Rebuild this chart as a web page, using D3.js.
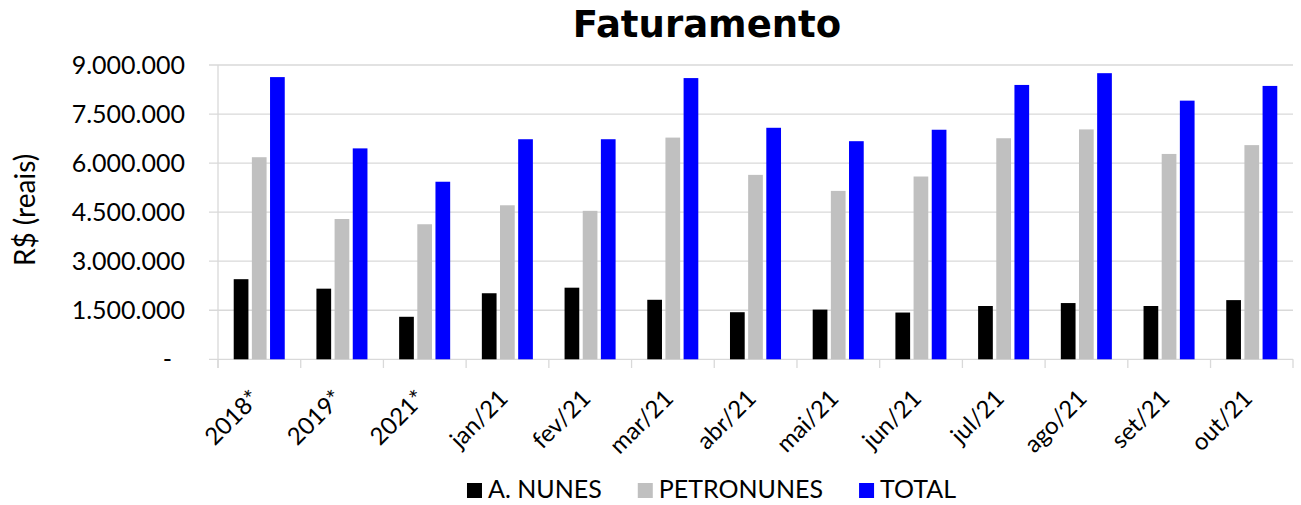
<!DOCTYPE html>
<html>
<head>
<meta charset="utf-8">
<script src="https://cdn.jsdelivr.net/npm/d3@7"></script>
<style>
  body { margin: 0; background: #fff; }
  text { font-family: Lato, "Open Sans", sans-serif; fill: #000; }
</style>
</head>
<body>
<div class="chart"></div>
<script>
var width = 1301;
var height = 505;

// data (R$)
var categories = ["2018*", "2019*", "2021*", "jan/21", "fev/21", "mar/21", "abr/21",
                  "mai/21", "jun/21", "jul/21", "ago/21", "set/21", "out/21"];
var seriesNames = ["A. NUNES", "PETRONUNES", "TOTAL"];
var aNunes     = [2450000, 2160000, 1300000, 2020000, 2190000, 1820000, 1440000, 1520000, 1430000, 1630000, 1720000, 1630000, 1810000];
var petronunes = [6180000, 4290000, 4130000, 4710000, 4540000, 6780000, 5640000, 5150000, 5590000, 6760000, 7030000, 6280000, 6550000];
var total      = [8630000, 6450000, 5430000, 6730000, 6730000, 8600000, 7080000, 6670000, 7020000, 8390000, 8750000, 7910000, 8360000];
var yTicks = [0, 1500000, 3000000, 4500000, 6000000, 7500000, 9000000];
var colors = ["#000000", "#c0c0c0", "#0000ff"];

var seriesValues = [aNunes, petronunes, total];

var svg = d3.select(".chart").append("svg")
  .attr("width", width)
  .attr("height", height);

var x = d3.scaleBand()
  .domain(categories)
  .range([218, 1293])
  .paddingInner(0.383)
  .paddingOuter(0.19);

var x1 = d3.scaleBand()
  .domain(seriesNames)
  .range([0, x.bandwidth()])
  .paddingInner(0.19);

var y = d3.scaleLinear()
  .domain([0, 9000000])
  .range([359.3, 65]);

var color = d3.scaleOrdinal().domain(seriesNames).range(colors);

var br = d3.formatLocale({decimal: ",", thousands: ".", grouping: [3], currency: ["R$", ""]});
var fmt = br.format(",.0f");

// gridlines
svg.append("g")
  .selectAll("line")
  .data(yTicks)
  .enter().append("line")
    .attr("x1", 209)
    .attr("x2", 1293)
    .attr("y1", function(d) { return y(d); })
    .attr("y2", function(d) { return y(d); })
    .attr("stroke", "#d9d9d9")
    .attr("stroke-width", 1.3);

// vertical axis line
svg.append("line")
  .attr("x1", 218).attr("x2", 218)
  .attr("y1", y(9000000)).attr("y2", 368)
  .attr("stroke", "#d9d9d9")
  .attr("stroke-width", 1.3);

// category ticks
svg.append("g")
  .selectAll("line")
  .data(categories.concat(["_end"]))
  .enter().append("line")
    .attr("x1", function(d, i) { return i < categories.length ? x(d) - x.step() * x.paddingOuter() : 1293; })
    .attr("x2", function(d, i) { return i < categories.length ? x(d) - x.step() * x.paddingOuter() : 1293; })
    .attr("y1", y(0))
    .attr("y2", 368)
    .attr("stroke", "#d9d9d9")
    .attr("stroke-width", 1.3);

// y tick labels
svg.append("g")
  .selectAll("text")
  .data(yTicks)
  .enter().append("text")
    .attr("x", function(d) { return d === 0 ? 172 : 185; })
    .attr("y", function(d) { return y(d); })
    .attr("dy", "0.35em")
    .attr("text-anchor", "end")
    .style("font-size", "25px")
    .text(function(d) { return d === 0 ? "-" : fmt(d); });

// bars
var group = svg.append("g")
  .selectAll("g")
  .data(categories)
  .enter().append("g")
    .attr("transform", function(d) { return "translate(" + x(d) + ",0)"; });

group.selectAll("rect")
  .data(function(d, i) {
    return seriesNames.map(function(s, j) { return {key: s, value: seriesValues[j][i]}; });
  })
  .enter().append("rect")
    .attr("x", function(d) { return x1(d.key); })
    .attr("y", function(d) { return y(d.value); })
    .attr("width", x1.bandwidth())
    .attr("height", function(d) { return y(0) - y(d.value); })
    .attr("fill", function(d) { return color(d.key); });

// x labels
svg.append("g")
  .selectAll("text")
  .data(categories)
  .enter().append("text")
    .attr("transform", function(d) {
      return "translate(" + (x(d) + x.bandwidth() / 2 + 2) + ",400) rotate(-45)";
    })
    .attr("text-anchor", "end")
    .style("font-size", "24px")
    .text(function(d) { return d; });

// y axis title
svg.append("text")
  .attr("transform", "translate(35,210) rotate(-90)")
  .attr("text-anchor", "middle")
  .style("font-size", "28px")
  .text("R$ (reais)");

// title
svg.append("text")
  .attr("x", 707)
  .attr("y", 37)
  .attr("text-anchor", "middle")
  .style("font-family", "'DejaVu Sans', sans-serif")
  .style("font-weight", "bold")
  .style("font-size", "37px")
  .text("Faturamento");

// legend
var legend = svg.append("g");
var item = legend.selectAll("g")
  .data(seriesNames)
  .enter().append("g");

item.append("rect")
  .attr("width", 15)
  .attr("height", 15)
  .attr("y", 483)
  .attr("fill", function(d) { return color(d); });

item.append("text")
  .attr("x", 21)
  .attr("y", 498)
  .style("font-size", "25px")
  .text(function(d) { return d; });

var pos = 0;
item.each(function() {
  var w = d3.select(this).select("text").node().getComputedTextLength();
  d3.select(this).attr("data-x", pos);
  pos += 21 + w + 36;
});
var legendWidth = pos - 36;
item.attr("transform", function() {
  return "translate(" + (711.5 - legendWidth / 2 + (+d3.select(this).attr("data-x"))) + ",0)";
});
</script>
</body>
</html>
